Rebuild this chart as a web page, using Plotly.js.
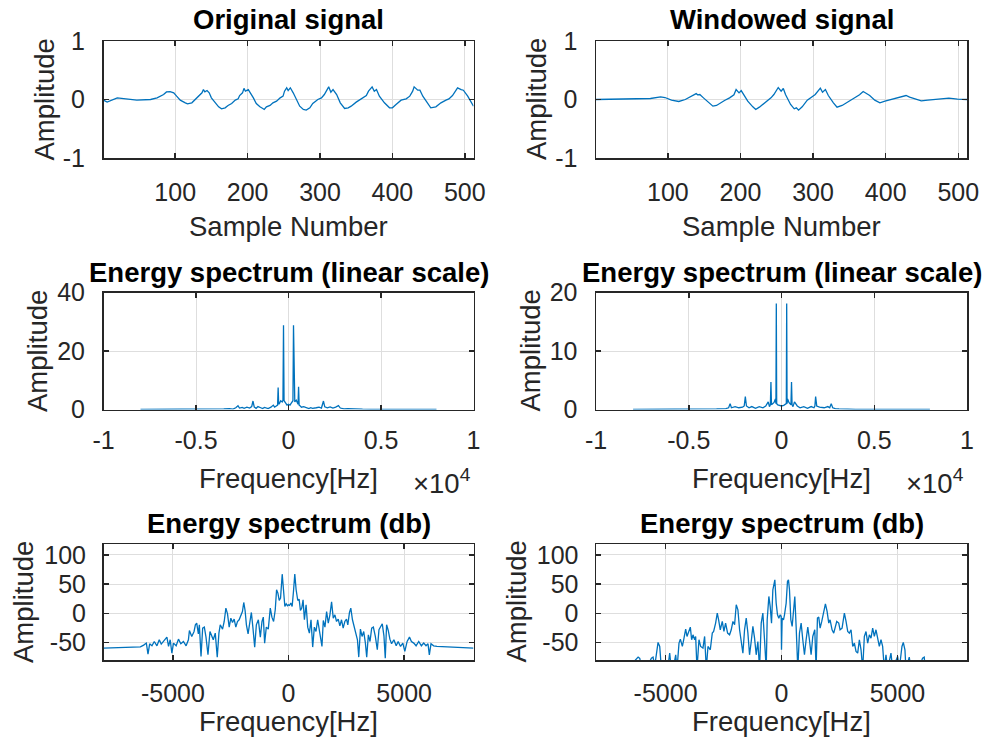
<!DOCTYPE html>
<html><head><meta charset="utf-8">
<script src="https://cdn.plot.ly/plotly-3.0.1.min.js"></script>
<style>html,body{margin:0;padding:0;background:#fff}#chart{width:994px;height:746px}</style>
</head><body><div id="chart"></div><script>
// ---- Original signal (sample index, amplitude) ----
const origN = [1,6,20,29,47,66,75,84,88,93,98,102,107,114,117,123,127,132,137,139,141,144,147,150,155,160,164,169,173,178,183,187,189,193,195,197,201,204,208,212,217,221,223,226,231,235,240,245,249,251,254,256,259,263,267,272,277,281,286,290,294,297,302,306,312,315,318,323,328,334,339,343,350,355,359,364,367,372,375,378,382,389,396,400,405,412,419,424,428,430,435,438,442,449,453,460,467,474,478,483,490,495,498,504,507,512];
const origV = [-0.01,-0.045,0.028,0.017,-0.011,0,0.028,0.085,0.13,0.136,0.114,0.057,-0.011,-0.057,-0.074,-0.057,-0.011,0.057,0.114,0.17,0.13,0.153,0.114,0.028,-0.057,-0.125,-0.159,-0.142,-0.102,-0.068,-0.011,0.011,0.068,0.114,0.19,0.142,0.17,0.114,0.028,-0.068,-0.125,-0.153,-0.17,-0.125,-0.102,-0.057,-0.028,0.028,0.057,0.142,0.2,0.153,0.2,0.114,0,-0.114,-0.17,-0.18,-0.142,-0.068,-0.028,0,0.028,0.085,0.216,0.125,0.17,0.085,-0.057,-0.153,-0.142,-0.114,-0.045,0,0.028,0.068,0.142,0.216,0.142,0.17,0.057,-0.057,-0.142,-0.142,-0.085,-0.011,0.011,0.057,0.142,0.216,0.159,0.159,0.057,-0.068,-0.142,-0.125,-0.057,-0.011,0.011,0.068,0.2,0.17,0.159,0.057,-0.017,-0.114];

// ---- Windowed signal ----
const winN = [1,62,76,90,96,105,115,124,131,139,141,144,149,156,162,167,171,178,185,191,194,198,201,204,210,217,221,226,233,237,242,246,252,256,259,262,269,274,277,280,285,292,296,303,310,313,317,321,328,333,340,346,353,359,364,369,373,378,385,392,399,406,412,421,428,433,440,449,458,471,487,499,512];
const winV = [0,0.006,0.017,0.045,0.034,-0.011,-0.034,0,0.045,0.1,0.08,0.085,0.028,-0.057,-0.114,-0.102,-0.068,-0.017,0.028,0.08,0.17,0.114,0.153,0.085,-0.028,-0.125,-0.17,-0.131,-0.068,-0.028,0.028,0.085,0.205,0.142,0.188,0.085,-0.085,-0.159,-0.142,-0.182,-0.125,-0.011,0.028,0.085,0.193,0.125,0.17,0.068,-0.057,-0.131,-0.102,-0.057,0,0.045,0.08,0.136,0.102,0.068,-0.011,-0.057,-0.028,-0.006,0.017,0.034,0.068,0.04,0.011,-0.023,-0.011,0.006,0.023,0.006,0];

// ---- Energy spectrum, linear scale (original) ----
const linF = [-8000,-5000,-4500,-4000,-3500,-3200,-3000,-2850,-2730,-2650,-2500,-2400,-2250,-2100,-1990,-1920,-1850,-1750,-1650,-1500,-1400,-1300,-1200,-1100,-950,-820,-750,-650,-590,-560,-530,-480,-420,-340,-300,-270,-240,-150,-80,0,80,150,240,270,300,340,420,480,515,545,575,620,700,820,950,1100,1200,1300,1500,1650,1780,1890,1960,2100,2250,2400,2550,2700,2800,3000,3200,3500,4000,4500,5000,8000];
const linV = [0,0.02,0.05,0.1,0.2,0.3,0.15,0.6,1.3,0.5,0.7,0.4,0.8,0.5,1.0,2.9,0.8,0.4,1.0,0.6,0.3,0.7,0.5,0.3,0.8,1.5,0.8,1.2,1.5,7.5,1.8,2.2,3.0,2.6,3.2,28.8,3.0,2.2,1.5,1.8,1.5,2.2,3.0,28.8,3.2,2.6,3.2,2.2,1.8,7.8,1.5,1.3,0.8,1.0,0.7,0.3,0.6,0.4,0.6,0.8,0.5,2.9,0.9,0.6,0.9,0.5,0.8,1.3,0.5,0.2,0.3,0.15,0.1,0.05,0.02,0];

// ---- Energy spectrum, linear scale (windowed) ----
const linWF = [-8000,-5000,-4000,-3500,-3000,-2850,-2770,-2700,-2500,-2300,-2100,-2010,-1950,-1890,-1750,-1600,-1400,-1200,-1000,-850,-716,-650,-600,-570,-540,-470,-400,-330,-300,-280,-260,-200,-120,0,120,200,260,280,300,330,400,470,510,540,570,620,700,850,1000,1200,1400,1600,1750,1800,1840,1900,2050,2300,2500,2600,2680,2760,2900,3100,3500,4000,5000,8000];
const linWV = [0,0.01,0.05,0.1,0.15,0.3,1.0,0.3,0.5,0.3,0.4,0.6,2.2,0.6,0.3,0.5,0.2,0.5,0.3,0.6,1.3,0.5,0.8,4.7,0.8,1.0,1.2,1.8,1.0,18.1,1.0,0.8,0.7,0.6,0.7,0.8,1.0,18.1,1.0,1.8,1.2,1.0,0.8,4.7,0.8,0.5,1.3,0.6,0.3,0.5,0.2,0.5,0.3,0.6,2.2,0.6,0.4,0.3,0.5,0.3,1.0,0.3,0.15,0.1,0.05,0.02,0.01,0];

// ---- Energy spectrum (db), original ----
const dbF = [-8000,-7265,-6405,-6262,-6147,-6076,-6004,-5904,-5804,-5689,-5589,-5503,-5402,-5316,-5259,-5188,-5116,-5044,-4973,-4858,-4758,-4657,-4543,-4428,-4328,-4285,-4184,-4084,-4027,-3969,-3898,-3855,-3783,-3712,-3640,-3568,-3482,-3396,-3325,-3253,-3167,-3081,-3009,-2952,-2852,-2780,-2708,-2637,-2565,-2493,-2422,-2350,-2278,-2207,-2135,-2064,-1992,-1935,-1877,-1820,-1748,-1677,-1605,-1533,-1462,-1390,-1304,-1218,-1146,-1089,-1032,-960,-874,-788,-717,-645,-573,-516,-459,-401,-344,-272,-215,-158,-100,-43,0,
  43,100,158,215,272,330,401,459,516,573,630,688,760,831,903,974,1046,1118,1189,1261,1333,1390,1447,1505,1576,1648,1720,1791,1863,1935,2006,2078,2150,2221,2293,2364,2436,2508,2565,2637,2694,2766,2837,2909,2981,3038,3110,3181,3253,3325,3382,3454,3525,3597,3669,3755,3840,3912,3984,4055,4127,4184,4242,4313,4385,4457,4557,4657,4743,4844,4944,5030,5130,5231,5316,5417,5517,5632,5746,5847,5947,6033,6090,6162,6276,6420,8000];
const dbV = [-59.3,-58.7,-57.0,-54.1,-50.7,-69.5,-51.9,-55.3,-47.9,-55.3,-45.0,-52.4,-47.9,-42.2,-40.5,-56.4,-45.0,-67.8,-50.7,-55.3,-43.9,-51.9,-47.9,-55.3,-45.0,-29.1,-39.3,-30.8,-19.4,-16.5,-34.8,-19.4,-73.5,-25.1,-23.4,-40.5,-70.7,-30.8,-39.3,-45.0,-33.6,-74.6,-33.6,-19.4,-26.8,-13.7,9.1,-0.6,-23.4,-8.0,-15.4,-9.7,-23.4,-13.7,-10.8,-4.0,3.4,18.8,5.1,-19.4,-34.8,-16.5,1.7,-26.8,-57.5,-19.4,-10.8,-40.5,-13.7,-6.3,-50.7,-23.4,-26.8,9.1,-6.3,-13.7,6.3,40.5,34.8,22.2,26.2,67.2,37.6,12.0,16.5,13.1,14.8,
  13.7,17.7,12.0,37.6,67.2,40.5,22.2,24.5,5.1,9.1,23.4,-10.8,14.8,-23.4,-33.6,-10.8,-57.5,-23.4,-30.8,-10.8,-26.8,-39.3,-56.4,-12.0,-23.4,3.4,-16.5,-2.3,19.9,-8.0,-2.3,-13.7,-9.7,-21.1,-10.8,-25.1,-13.7,-9.7,-19.4,1.7,9.1,-10.8,-23.4,-32.5,-45.0,-74.6,-26.8,-39.3,-30.8,-50.7,-74.6,-36.5,-47.9,-25.1,-23.4,-39.3,-62.1,-27.9,-23.4,-17.7,-38.2,-76.4,-19.4,-29.1,-43.9,-51.9,-45.0,-55.3,-47.9,-56.4,-50.7,-65.0,-47.9,-40.5,-47.9,-50.7,-55.3,-47.9,-55.3,-50.7,-55.3,-51.9,-70.7,-51.9,-55.3,-56.4,-59.3];

// ---- Energy spectrum (db), windowed ----
const dbWF = [-8000,-7000,-6185,-6113,-6041,-5898,-5611,-5539,-5467,-5396,-5324,-5252,-5180,-5037,-4893,-4822,-4750,-4650,-4563,-4506,-4420,-4362,-4276,-4219,-4133,-4075,-4004,-3932,-3875,-3817,-3745,-3702,-3645,-3559,-3487,-3387,-3315,-3243,-3171,-3071,-2985,-2927,-2841,-2770,-2712,-2640,-2554,-2483,-2411,-2325,-2239,-2167,-2095,-2023,-1952,-1880,-1808,-1736,-1665,-1593,-1521,-1449,-1378,-1306,-1234,-1162,-1091,-1019,-947,-875,-804,-732,-660,-617,-545,-488,-430,-373,-330,-287,-230,-172,-115,-57,-14,0,29,86,129,201,258,301,344,402,459,517,574,631,703,775,847,918,990,1062,1134,1205,1277,1349,1435,1492,1550,1607,1665,1736,1822,1894,1966,2038,2095,2181,2253,2325,2382,2468,2526,2612,2712,2784,2856,2927,2999,3071,3143,3214,3286,3358,3430,3501,3573,3645,3717,3788,3860,3932,4004,4075,4147,4219,4291,4362,4434,4506,4578,4721,4793,5008,5080,5195,5252,5324,5367,5510,5582,5869,6084,6156,6199,6800,8000];
const dbWV = [-120,-110,-74.6,-76.9,-90,-100,-76.4,-74.6,-90,-67.8,-49.6,-56.4,-95,-100,-90,-67.8,-95,-90,-70.7,-95,-50.7,-43.9,-56.4,-45.0,-26.8,-39.3,-30.8,-23.4,-45.0,-36.5,-45.0,-39.3,-95,-45.0,-56.4,-59.3,-39.3,-95,-56.4,-62.1,-33.6,-30.8,-16.5,0.6,-10.8,-27.9,-13.7,-30.8,-16.5,-33.6,-36.5,-27.9,-13.7,-19.4,14.8,6.3,-27.9,-50.7,-67.8,-27.9,-8.0,-33.6,-70.7,-47.9,-22.2,-42.2,-70.7,-47.9,-95,-16.5,0.6,-45.0,-95,-10.8,29.1,12.0,-16.5,40.5,51.9,57.5,17.7,-2.3,-8.0,-2.3,-5.1,-62.1,-8.0,-10.8,-2.3,17.7,54.7,57.5,40.5,-10.8,-22.2,12.0,29.1,-22.2,-95,-33.6,-16.5,-45.0,-70.7,-45.0,-23.4,-45.0,-70.7,-39.3,-27.9,-95,-8.0,-6.3,-25.1,-13.7,6.3,16.5,3.4,-16.5,-10.8,-27.9,-33.6,-22.2,-13.7,-16.5,-27.9,-25.1,0.6,-13.7,-30.8,-33.6,-27.9,-56.4,-50.7,-65.0,-67.8,-45.0,-62.1,-95,-39.3,-30.8,-50.7,-36.5,-42.2,-25.1,-39.3,-27.9,-45.0,-56.4,-45.0,-56.4,-95,-70.7,-95,-67.8,-95,-73.5,-95,-56.4,-49.6,-62.1,-95,-74.6,-95,-100,-76.4,-74.6,-95,-110,-120];

// ---- Ticks & text ----
const sampleTicks = [100,200,300,400,500];
const ampTicks = [-1,0,1], ampTickText = ['-1','0','1'];
const linFreqTicks = [-10000,-5000,0,5000,10000], linFreqText = ['-1','-0.5','0','0.5','1'];
const linYTicks = [0,20,40], linWYTicks = [0,10,20];
const dbFreqTicks = [-5000,0,5000], dbFreqText = ['-5000','0','5000'];
const dbYTicks = [-50,0,50,100], dbYText = ['-50','0','50','100'];
const titles = ['Original signal','Windowed signal','Energy spectrum (linear scale)','Energy spectrum (linear scale)','Energy spectrum (db)','Energy spectrum (db)'];

const FONT = 'Liberation Sans, Arial, Helvetica, sans-serif';
const W = 994, H = 746;
const px = x => x / W, py = y => 1 - y / H;
const colL = [px(103.5), px(473.5)], colR = [px(596), px(967)];
const row1 = [py(158), py(41)], row2 = [py(409.5), py(292.5)], row3 = [py(660), py(544)];

function axis(domain, range, vals, text, anchor, standoff) {
  return {
    domain, range, anchor, tickvals: vals, ticktext: text || vals.map(String),
    showline: true, linecolor: '#262626', linewidth: 1.5, mirror: 'ticks',
    ticks: 'inside', ticklen: 5, tickwidth: 1.5, tickcolor: '#262626',
    showgrid: true, gridcolor: '#dedede', gridwidth: 1, zeroline: false,
    tickfont: {family: FONT, size: 25, color: '#262626'},
    ticklabelstandoff: standoff, fixedrange: true
  };
}

const line = {color: '#0072BD', width: 1.3};
const traces = [
  {x: origN, y: origV, xaxis: 'x', yaxis: 'y'},
  {x: winN, y: winV, xaxis: 'x2', yaxis: 'y2'},
  {x: linF, y: linV, xaxis: 'x3', yaxis: 'y3'},
  {x: linWF, y: linWV, xaxis: 'x4', yaxis: 'y4'},
  {x: dbF, y: dbV, xaxis: 'x5', yaxis: 'y5'},
  {x: dbWF, y: dbWV, xaxis: 'x6', yaxis: 'y6'}
].map(t => Object.assign({type: 'scatter', mode: 'lines', line, hoverinfo: 'skip', showlegend: false}, t));

const ann = [];
function txt(text, x, y, size, opts) {
  ann.push(Object.assign({text, x: px(x), y: py(y), xref: 'paper', yref: 'paper', showarrow: false,
    xanchor: 'center', yanchor: 'middle', font: {family: FONT, size, color: '#262626'}}, opts || {}));
}
const cx = [288.5, 781.5];
const titleY = [19.5, 272, 523];
titles.forEach((t, i) => {
  txt('<b>' + t + '</b>', cx[i % 2], titleY[Math.floor(i / 2)], 27.5, {font: {family: FONT, size: 27.5, color: '#000'}});
});
[0, 1].forEach(c => {
  const off = c * 492.5;
  txt('Sample Number', cx[c], 227, 27.5);
  txt('Frequency[Hz]', cx[c], 478, 27.5);
  txt('Frequency[Hz]', cx[c], 721, 27.5);
  txt('\u00d710<sup>4</sup>', 411 + off, 481, 27.5, {xanchor: 'left'});
  txt('Amplitude', 44 + off, 99.5, 27.5, {textangle: -90});
  txt('Amplitude', 37 + off, 351, 27.5, {textangle: -90});
  txt('Amplitude', 23 + off, 602, 27.5, {textangle: -90});
});

const layout = {
  width: W, height: H, margin: {l: 0, r: 0, t: 0, b: 0},
  paper_bgcolor: '#fff', plot_bgcolor: '#fff', showlegend: false,
  xaxis: axis(colL, [1, 512], sampleTicks, null, 'y', 11),
  yaxis: axis(row1, [-1, 1], ampTicks, ampTickText, 'x', 12),
  xaxis2: axis(colR, [1, 512], sampleTicks, null, 'y2', 11),
  yaxis2: axis(row1, [-1, 1], ampTicks, ampTickText, 'x2', 12),
  xaxis3: axis(colL, [-10000, 10000], linFreqTicks, linFreqText, 'y3', 8),
  yaxis3: axis(row2, [0, 40], linYTicks, null, 'x3', 12),
  xaxis4: axis(colR, [-10000, 10000], linFreqTicks, linFreqText, 'y4', 8),
  yaxis4: axis(row2, [0, 20], linWYTicks, null, 'x4', 12),
  xaxis5: axis(colL, [-8000, 8000], dbFreqTicks, dbFreqText, 'y5', 10),
  yaxis5: axis(row3, [-79.6, 118.8], dbYTicks, dbYText, 'x5', 11),
  xaxis6: axis(colR, [-8000, 8000], dbFreqTicks, dbFreqText, 'y6', 10),
  yaxis6: axis(row3, [-79.6, 118.8], dbYTicks, dbYText, 'x6', 11),
  annotations: ann
};

Plotly.newPlot('chart', traces, layout, {staticPlot: true, displayModeBar: false});
</script></body></html>
